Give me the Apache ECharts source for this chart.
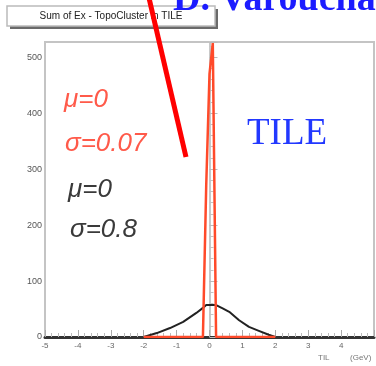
<!DOCTYPE html>
<html>
<head>
<meta charset="utf-8">
<script src="https://cdn.jsdelivr.net/npm/echarts@6/dist/echarts.min.js"></script>
<style>
  html, body { margin: 0; padding: 0; background: #fff; }
  #chart { width: 376px; height: 366px; }
</style>
</head>
<body>
<div id="chart"></div>
<script>
// Narrow component (sigma = 0.07): bin centres and contents
const narrowX = [-2, -0.2, -0.1, 0, 0.1, 0.2, 2];
const narrowY = [0, 0, 270, 470, 525, 0, 0];

// Wide component (sigma = 0.8): bin centres and contents
const wideX = [-2, -1.6, -1.2, -0.8, -0.4, -0.2, -0.1, 0.2, 0.4, 0.6, 0.9, 1.2, 1.5, 1.8, 2];
const wideY = [0, 7, 16, 27, 43, 52, 57, 57, 51, 45, 30, 18, 11, 4, 0];

const yTicks = [0, 100, 200, 300, 400, 500];
const xTicks = [-5, -4, -3, -2, -1, 0, 1, 2, 3, 4];

const pairs = (xs, ys) => xs.map((x, i) => [x, ys[i]]);

const chart = echarts.init(document.getElementById('chart'));
chart.setOption({
  animation: false,
  backgroundColor: '#ffffff',
  grid: {
    left: 45, top: 42, right: 2, bottom: 29,
    show: true, borderColor: '#c4c4c4', borderWidth: 2, backgroundColor: '#fff'
  },
  xAxis: {
    type: 'value', min: -5, max: 5, interval: 1,
    axisLine: { show: true, lineStyle: { color: '#333', width: 3 } },
    axisTick: { show: true, inside: true, length: 7, lineStyle: { color: '#aaa', width: 1 } },
    minorTick: { show: true, splitNumber: 5, length: 4, lineStyle: { color: '#bbb', width: 1 } },
    splitLine: { show: false },
    axisLabel: {
      color: '#666', fontSize: 8, margin: 5, fontFamily: 'Liberation Sans',
      showMaxLabel: false,
      formatter: v => (xTicks.includes(v) ? String(v) : '')
    }
  },
  yAxis: {
    type: 'value', min: 0, max: 527, interval: 100,
    axisLine: { show: true, lineStyle: { color: '#c8c8c8', width: 2 } },
    axisTick: { show: true, inside: true, length: 8, lineStyle: { color: '#bbb', width: 1 } },
    minorTick: { show: true, splitNumber: 5, length: 4, lineStyle: { color: '#c4c4c4', width: 1 } },
    splitLine: { show: false },
    axisLabel: {
      color: '#555', fontSize: 9, margin: 3, fontFamily: 'Liberation Sans',
      showMaxLabel: false,
      formatter: v => (yTicks.includes(v) ? String(v) : '')
    }
  },
  series: [
    {
      type: 'line', data: pairs(wideX, wideY), symbol: 'none', z: 3,
      lineStyle: { color: '#222', width: 2 }
    },
    {
      type: 'line', data: pairs(narrowX, narrowY), symbol: 'none', z: 4,
      lineStyle: { color: '#ff4a2a', width: 2.5 }
    }
  ],
  graphic: [
    // title box with shadow
    { type: 'rect', shape: { x: 10, y: 9, width: 208, height: 20 }, style: { fill: '#6a6a6a' }, z: 10 },
    { type: 'rect', shape: { x: 7, y: 6, width: 208, height: 20 },
      style: { fill: '#fff', stroke: '#bbb', lineWidth: 1.5 }, z: 11 },
    { type: 'text', x: 111, y: 16, z: 12,
      style: { text: 'Sum of Ex - TopoCluster in TILE', fill: '#222', font: '10px "Liberation Sans"',
               textAlign: 'center', textVerticalAlign: 'middle' } },
    // author name along the top edge
    { type: 'text', left: 173, top: -19, z: 15,
      style: { text: 'D. Varouchas', fill: '#1c1cff', font: 'bold 38px "Liberation Serif"' } },
    // red pen stroke
    { type: 'line', shape: { x1: 149, y1: -2, x2: 186, y2: 157 }, z: 20,
      style: { stroke: '#ff0000', lineWidth: 5 } },
    // fit parameters
    { type: 'text', x: 64, y: 113, z: 12,
      style: { text: 'μ=0', fill: '#ff5a4a', font: 'italic 26px "Liberation Sans"', textVerticalAlign: 'bottom' } },
    { type: 'text', x: 65, y: 157, z: 12,
      style: { text: 'σ=0.07', fill: '#ff5a4a', font: 'italic 26px "Liberation Sans"', textVerticalAlign: 'bottom' } },
    { type: 'text', x: 68, y: 203, z: 12,
      style: { text: 'μ=0', fill: '#3a3a3a', font: 'italic 26px "Liberation Sans"', textVerticalAlign: 'bottom' } },
    { type: 'text', x: 70, y: 243, z: 12,
      style: { text: 'σ=0.8', fill: '#3a3a3a', font: 'italic 26px "Liberation Sans"', textVerticalAlign: 'bottom' } },
    // calorimeter label
    { type: 'text', x: 247, y: 153, z: 12,
      style: { text: 'TILE', fill: '#2238ff', font: '37px "Liberation Serif"', textVerticalAlign: 'bottom' } },
    // axis title
    { type: 'text', x: 318, y: 358, z: 12,
      style: { text: 'TIL', fill: '#777', font: '8px "Liberation Sans"', textVerticalAlign: 'middle' } },
    { type: 'text', x: 350, y: 358, z: 12,
      style: { text: '(GeV)', fill: '#777', font: '8px "Liberation Sans"', textVerticalAlign: 'middle' } }
  ]
});
</script>
</body>
</html>
